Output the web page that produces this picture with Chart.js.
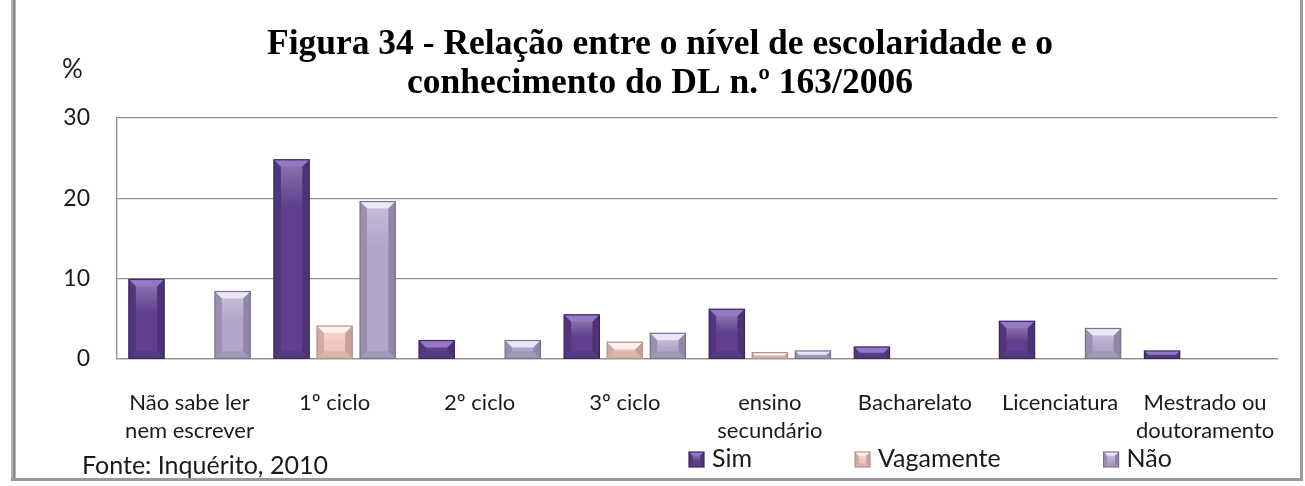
<!DOCTYPE html>
<html><head><meta charset="utf-8">
<script src="https://cdn.jsdelivr.net/npm/chart.js@4.4.1/dist/chart.umd.min.js"></script>
<style>html,body{margin:0;padding:0;background:#fff;} #wrap{position:relative;width:1305px;height:486px;} canvas{display:block;}</style>
</head><body><div id="wrap"><canvas id="c" width="1305" height="486"></canvas></div>
<script>
// ---- data ----
const categories = [["Não sabe ler","nem escrever"],"1º ciclo","2º ciclo","3º ciclo",["ensino","secundário"],"Bacharelato","Licenciatura",["Mestrado ou","doutoramento"]];
const seriesNames = ["Sim","Vagamente","Não"];
const simValues = [9.9,24.8,2.3,5.5,6.2,1.5,4.7,1.0];
const vagamenteValues = [0,4.1,0,2.1,0.8,0,0,0];
const naoValues = [8.4,19.6,2.3,3.2,1.0,0,3.8,0];
const yTicks = [0,10,20,30];
const titleLines = ["Figura 34 - Relação entre o nível de escolaridade e o","conhecimento do DL n.º 163/2006"];
const yUnit = "%";
const sourceNote = "Fonte: Inquérito, 2010";

// ---- styles ----
const palette = [
  {fill:'#5f3f8e', edge:'#3a2660', light:'#9478c4'},
  {fill:'#efc5be', edge:'#b3918b', light:'#fdf0ee'},
  {fill:'#b1a5c9', edge:'#7a7190', light:'#ece6f7'}
];
const SANS = 'Lato';

function poly(ctx, pts, color){
  ctx.beginPath(); ctx.moveTo(pts[0][0],pts[0][1]);
  for (let i=1;i<pts.length;i++) ctx.lineTo(pts[i][0],pts[i][1]);
  ctx.closePath(); ctx.fillStyle=color; ctx.fill();
}
function bevelRect(ctx,l,t,r,b,c,dMax){
  const h=b-t, w=r-l;
  ctx.fillStyle=c.fill; ctx.fillRect(l,t,w,h);
  const d=Math.min(dMax,h/2,w/4);
  poly(ctx,[[l,t],[r,t],[r-d,t+d],[l+d,t+d]],c.light);
  poly(ctx,[[l,t],[l+d,t+d],[l+d,b-d],[l,b]],'rgba(0,0,0,0.13)');
  poly(ctx,[[r,t],[r-d,t+d],[r-d,b-d],[r,b]],'rgba(0,0,0,0.18)');
  poly(ctx,[[l,b],[l+d,b-d],[r-d,b-d],[r,b]],'rgba(0,0,0,0.08)');
  if (h > 3*d) {
    const g=ctx.createLinearGradient(0,t+d,0,t+d+Math.min(h*0.35,40));
    g.addColorStop(0,'rgba(255,255,255,0.25)'); g.addColorStop(1,'rgba(255,255,255,0)');
    ctx.fillStyle=g; ctx.fillRect(l+d,t+d,w-2*d,Math.min(h*0.35,40));
  }
  ctx.lineWidth=1.2; ctx.strokeStyle=c.edge; ctx.strokeRect(l,t,w,h);
}

const bevelPlugin = {
  id:'bevel',
  afterDatasetsDraw(chart){
    const ctx=chart.ctx;
    chart.data.datasets.forEach((ds,i)=>{
      const meta=chart.getDatasetMeta(i);
      if (meta.hidden) return;
      meta.data.forEach(el=>{
        const p=el.getProps(['x','y','base','width'],true);
        const h=p.base-p.y; if (h<0.5) return;
        ctx.save();
        bevelRect(ctx,p.x-p.width/2,p.y,p.x+p.width/2,p.base,palette[i],7);
        ctx.restore();
      });
    });
  }
};

const decorPlugin = {
  id:'decor',
  afterDraw(chart){
    const ctx=chart.ctx;
    ctx.save();
    // frame
    ctx.fillStyle='#b4b4b4'; ctx.fillRect(11,0,5,481);
    ctx.fillStyle='#8a8a8a'; ctx.fillRect(13,0,2,481);
    ctx.fillStyle='#9a9a9a'; ctx.fillRect(11,478,1292,3);
    ctx.fillStyle='#9a9a9a'; ctx.fillRect(1300,0,3,481);
    // title
    ctx.fillStyle='#000'; ctx.textAlign='center'; ctx.textBaseline='alphabetic';
    ctx.font='bold 35.5px "Liberation Serif"';
    ctx.fillText(titleLines[0],660,54);
    ctx.fillText(titleLines[1],660,93);
    // unit
    ctx.fillStyle='#1a1a1a'; ctx.textAlign='left';
    ctx.font='26px '+SANS;
    ctx.fillText(yUnit,62,78);
    // source
    ctx.font='25px '+SANS;
    ctx.fillText(sourceNote,82,474);
    // legend
    ctx.font='25px '+SANS;
    let x=689; const by=452, bs=15;
    chart.data.datasets.forEach((ds,i)=>{
      bevelRect(ctx,x,by,x+bs,by+bs,palette[i],4);
      ctx.fillStyle='#1a1a1a'; ctx.textBaseline='alphabetic';
      ctx.fillText(ds.label,x+bs+8,467);
      x += bs+8+ctx.measureText(ds.label).width+103;
    });
    ctx.restore();
  }
};

const series=[simValues,vagamenteValues,naoValues];
new Chart(document.getElementById('c'),{
  type:'bar',
  data:{
    labels:categories,
    datasets:series.map((vals,i)=>({
      label:seriesNames[i], data:vals,
      backgroundColor:palette[i].fill, borderColor:palette[i].edge, borderWidth:0,
      categoryPercentage:0.89, barPercentage:0.82
    }))
  },
  options:{
    responsive:false, animation:false, devicePixelRatio:1,
    layout:{padding:{top:118,left:0,right:12,bottom:0}},
    plugins:{legend:{display:false},title:{display:false},tooltip:{enabled:false}},
    scales:{
      x:{
        grid:{display:false,drawTicks:false},
        border:{display:true,color:'#8e8e8e',width:1.3},
        ticks:{font:{family:SANS,size:22,lineHeight:1.27},color:'#1a1a1a',padding:30,maxRotation:0,autoSkip:false},
        afterFit:s=>{s.height=127;}
      },
      y:{
        min:0,max:30,
        afterBuildTicks:s=>{s.ticks=yTicks.map(v=>({value:v}));},
        ticks:{font:{family:SANS,size:23},color:'#1a1a1a',padding:27},
        grid:{color:'#8e8e8e',lineWidth:1.3,drawTicks:false},
        border:{display:true,color:'#8e8e8e',width:1.3},
        afterFit:s=>{s.width=117;}
      }
    }
  },
  plugins:[bevelPlugin,decorPlugin]
});
</script></body></html>
